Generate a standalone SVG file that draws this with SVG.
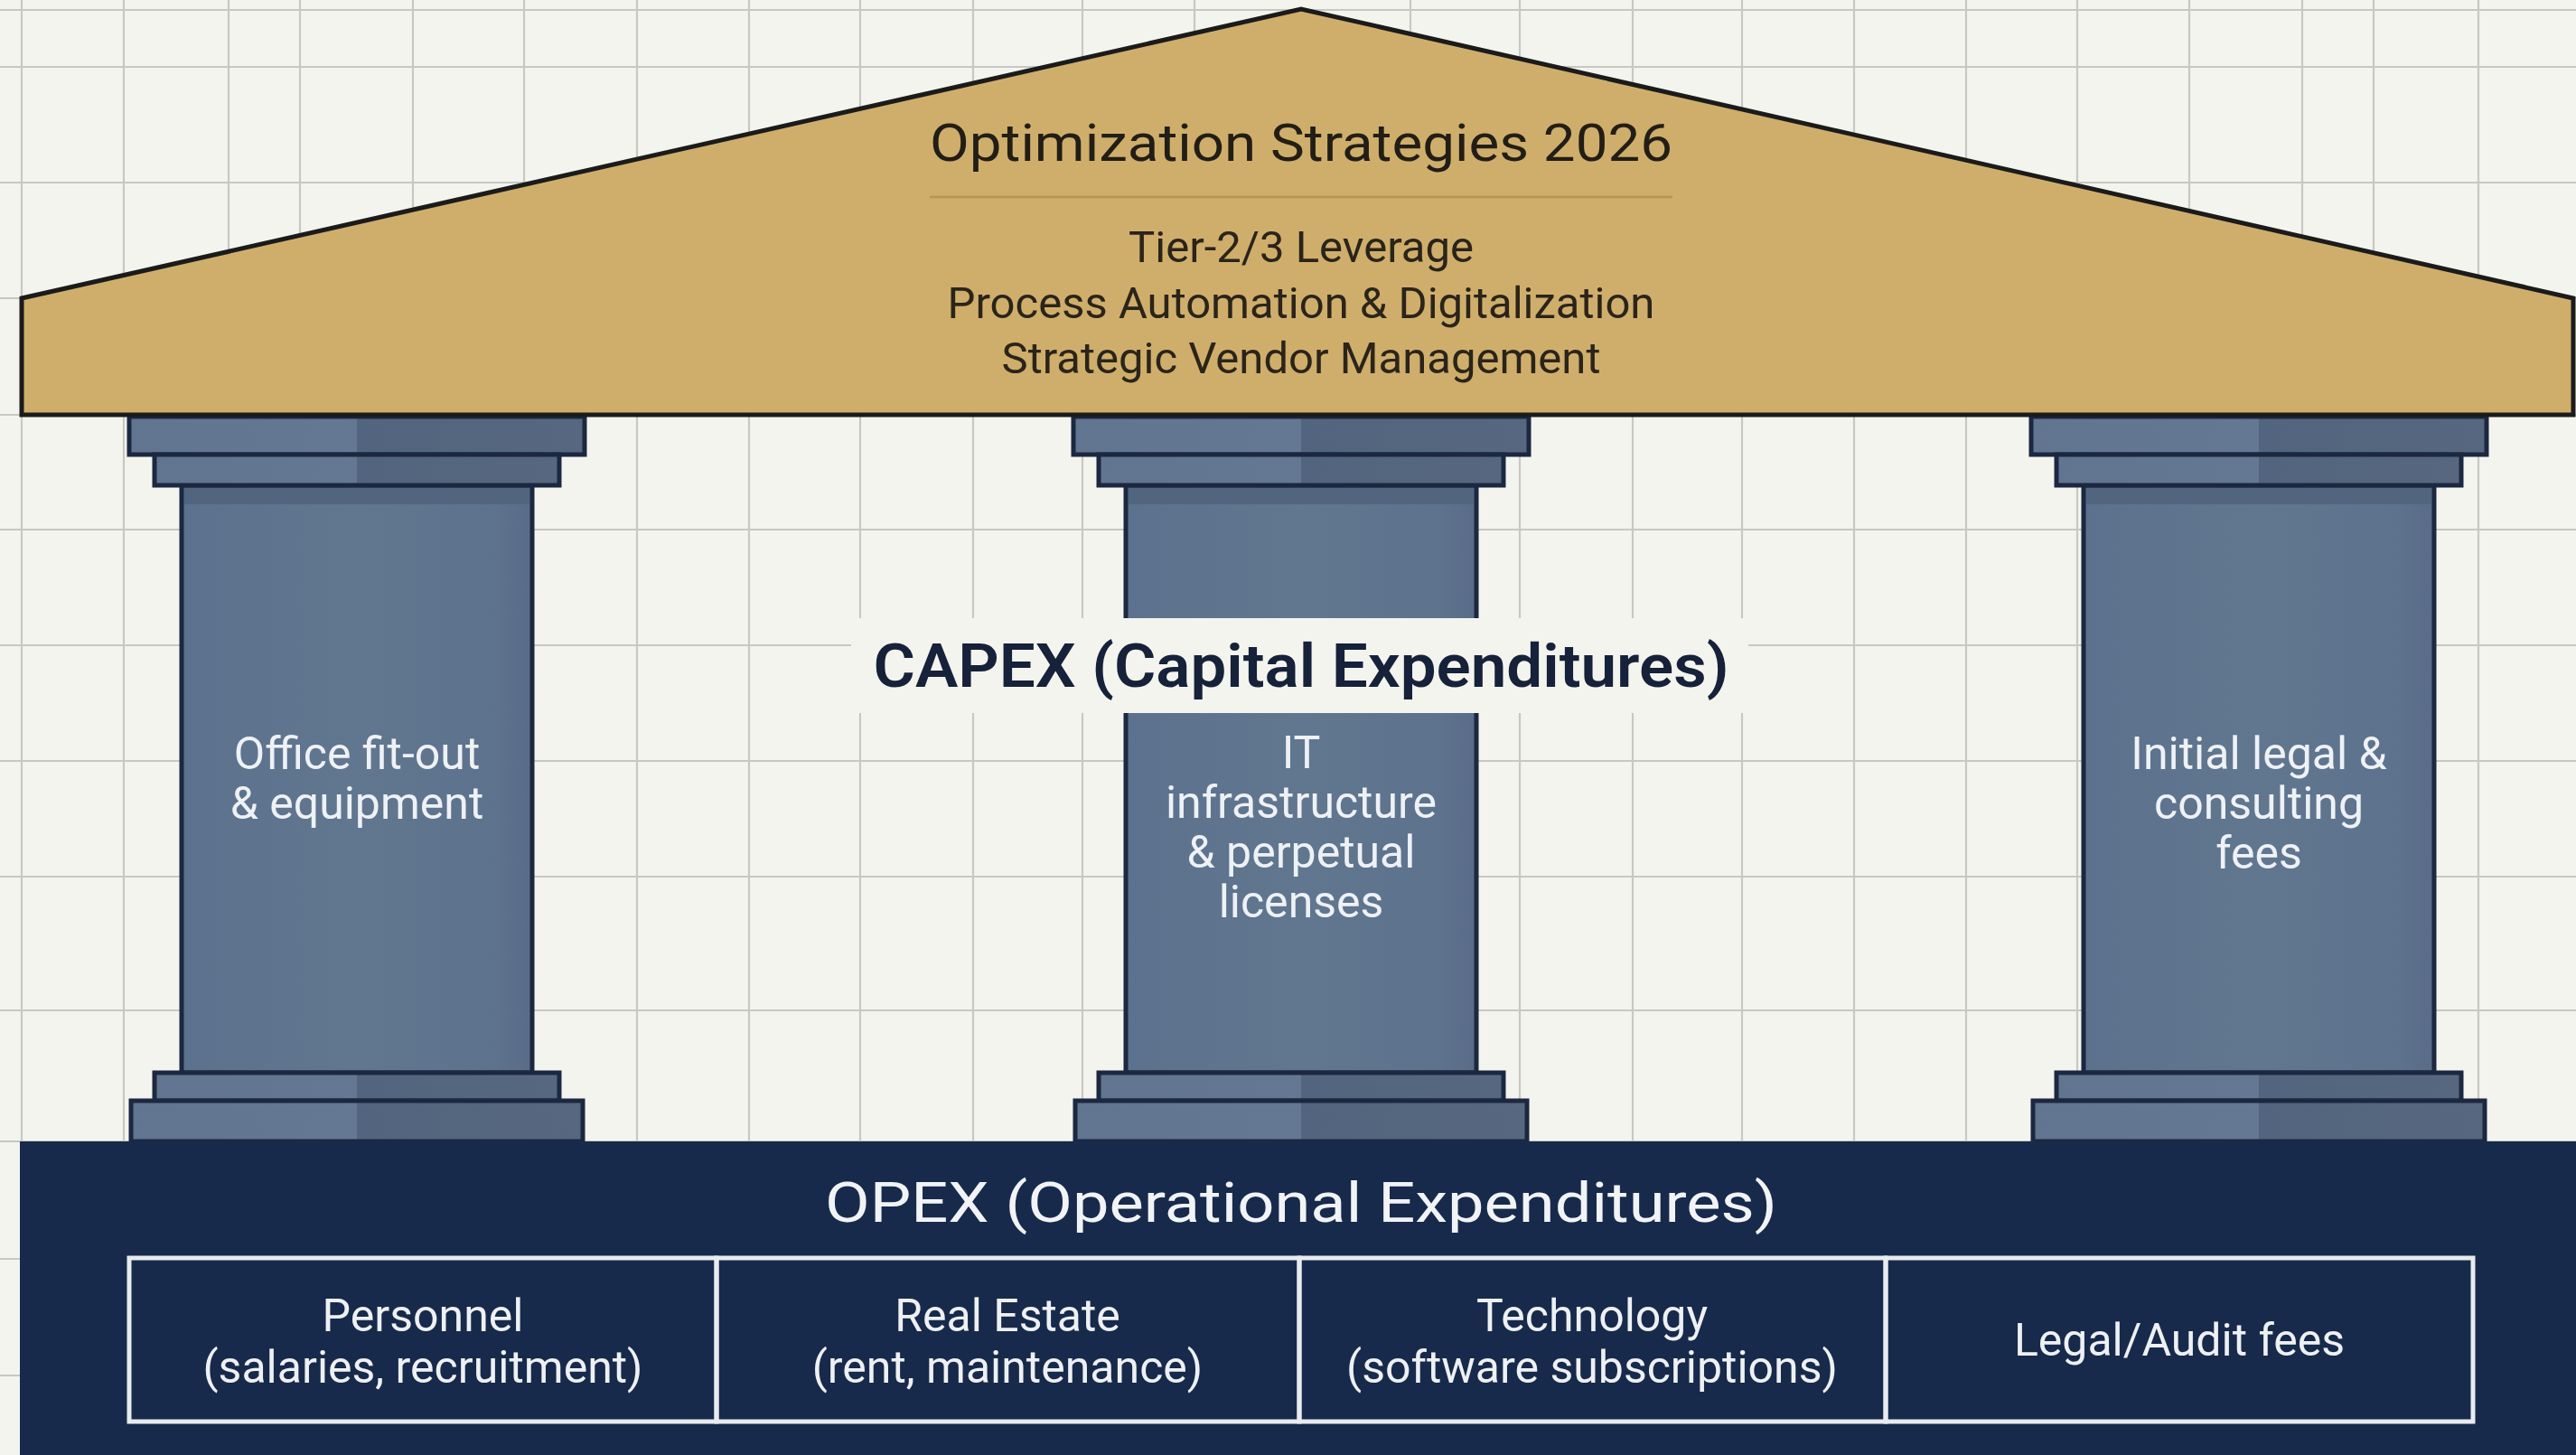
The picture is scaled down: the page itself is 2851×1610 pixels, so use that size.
<svg xmlns="http://www.w3.org/2000/svg" xmlns:xlink="http://www.w3.org/1999/xlink" width="2851" height="1610" viewBox="0 0 2851 1610">
  <style>
    .grid line { stroke: #c8c8c2; stroke-width: 2.2; }
    .slab { fill: url(#slabFill); stroke: #1b2840; stroke-width: 5; }
    .shaft { fill: url(#shaftFill); stroke: #1b2840; stroke-width: 5; }
    .ptext { font-family: Roboto, "Liberation Sans", sans-serif; font-size: 50px; fill: #eef1f5; text-anchor: middle; }
    .rtext { font-family: Roboto, "Liberation Sans", sans-serif; font-size: 49px; fill: #2a2419; text-anchor: middle; }
    .otext { font-family: Roboto, "Liberation Sans", sans-serif; font-size: 50px; fill: #eef0f3; text-anchor: middle; }
    .cell { fill: none; stroke: #e8ebef; stroke-width: 5; }
  </style>
  <defs>
    <linearGradient id="slabFill" x1="0" y1="0" x2="1" y2="0">
      <stop offset="0" stop-color="#617490"/>
      <stop offset="0.5" stop-color="#647793"/>
      <stop offset="0.5" stop-color="#53647e"/>
      <stop offset="1" stop-color="#56677f"/>
    </linearGradient>
    <linearGradient id="shaftFill" x1="0" y1="0" x2="1" y2="0">
      <stop offset="0" stop-color="#5c718d"/>
      <stop offset="0.5" stop-color="#61778f"/>
      <stop offset="0.9" stop-color="#5d728d"/>
      <stop offset="1" stop-color="#596b88"/>
    </linearGradient>
    <g id="pillarShape">
      <rect x="-194" y="537" width="388" height="650" class="shaft"/>
      <rect x="-191" y="540" width="382" height="18" fill="#52657f"/>
      <rect x="-252" y="461" width="504" height="42" class="slab"/>
      <rect x="-224" y="503" width="448" height="34" class="slab"/>
      <rect x="-224" y="1187" width="448" height="31" class="slab"/>
      <rect x="-250" y="1218" width="500" height="45" class="slab"/>
    </g>
  </defs>

  <rect x="0" y="0" width="2851" height="1610" fill="#f4f4ef"/>

  <g class="grid" id="grid">
    <line x1="24" y1="0" x2="24" y2="1610"/>
    <line x1="137" y1="0" x2="137" y2="1610"/>
    <line x1="253" y1="0" x2="253" y2="1610"/>
    <line x1="332" y1="0" x2="332" y2="1610"/>
    <line x1="457" y1="0" x2="457" y2="1610"/>
    <line x1="580" y1="0" x2="580" y2="1610"/>
    <line x1="705" y1="0" x2="705" y2="1610"/>
    <line x1="829" y1="0" x2="829" y2="1610"/>
    <line x1="952" y1="0" x2="952" y2="1610"/>
    <line x1="1077" y1="0" x2="1077" y2="1610"/>
    <line x1="1198" y1="0" x2="1198" y2="1610"/>
    <line x1="1322" y1="0" x2="1322" y2="1610"/>
    <line x1="1561" y1="0" x2="1561" y2="1610"/>
    <line x1="1682" y1="0" x2="1682" y2="1610"/>
    <line x1="1807" y1="0" x2="1807" y2="1610"/>
    <line x1="1928" y1="0" x2="1928" y2="1610"/>
    <line x1="2052" y1="0" x2="2052" y2="1610"/>
    <line x1="2176" y1="0" x2="2176" y2="1610"/>
    <line x1="2299" y1="0" x2="2299" y2="1610"/>
    <line x1="2423" y1="0" x2="2423" y2="1610"/>
    <line x1="2548" y1="0" x2="2548" y2="1610"/>
    <line x1="2627" y1="0" x2="2627" y2="1610"/>
    <line x1="2743" y1="0" x2="2743" y2="1610"/>
    <line x1="0" y1="11" x2="2851" y2="11"/>
    <line x1="0" y1="74" x2="2851" y2="74"/>
    <line x1="0" y1="202" x2="2851" y2="202"/>
    <line x1="0" y1="330" x2="2851" y2="330"/>
    <line x1="0" y1="459" x2="2851" y2="459"/>
    <line x1="0" y1="586" x2="2851" y2="586"/>
    <line x1="0" y1="714" x2="2851" y2="714"/>
    <line x1="0" y1="842" x2="2851" y2="842"/>
    <line x1="0" y1="970" x2="2851" y2="970"/>
    <line x1="0" y1="1118" x2="2851" y2="1118"/>
    <line x1="0" y1="1263" x2="2851" y2="1263"/>
    <line x1="0" y1="1393" x2="2851" y2="1393"/>
    <line x1="0" y1="1522" x2="2851" y2="1522"/>
  </g>

  <g id="pillar-1">
    <use href="#pillarShape" xlink:href="#pillarShape" transform="translate(395,0)"/>
    <text class="ptext" x="395" y="851">Office fit-out</text>
    <text class="ptext" x="395" y="906">&amp; equipment</text>
  </g>

  <g id="pillar-2">
    <use href="#pillarShape" xlink:href="#pillarShape" transform="translate(1440,0)"/>
    <text class="ptext" x="1440" y="850">IT</text>
    <text class="ptext" x="1440" y="905">infrastructure</text>
    <text class="ptext" x="1440" y="960">&amp; perpetual</text>
    <text class="ptext" x="1440" y="1015">licenses</text>
  </g>

  <g id="pillar-3">
    <use href="#pillarShape" xlink:href="#pillarShape" transform="translate(2500,0)"/>
    <text class="ptext" x="2500" y="851">Initial legal &amp;</text>
    <text class="ptext" x="2500" y="906">consulting</text>
    <text class="ptext" x="2500" y="961">fees</text>
  </g>

  <g id="capex-label">
    <rect x="942" y="684" width="993" height="105" fill="#f4f4ef"/>
    <text x="1440" y="760" text-anchor="middle" font-family="Roboto, 'Liberation Sans', sans-serif" font-size="66" font-weight="600" fill="#16213a" textLength="947" lengthAdjust="spacingAndGlyphs">CAPEX (Capital Expenditures)</text>
  </g>

  <g id="roof">
    <path d="M24,330 L1440,10 L2848,330 L2848,459 L24,459 Z" fill="#cfae6c" stroke="#1b1b1b" stroke-width="5" stroke-linejoin="miter"/>
    <text x="1440" y="178" text-anchor="middle" font-family="Roboto, 'Liberation Sans', sans-serif" font-size="58" font-weight="400" fill="#221e16" textLength="822" lengthAdjust="spacingAndGlyphs">Optimization Strategies 2026</text>
    <line x1="1029" y1="218" x2="1851" y2="218" stroke="#b59552" stroke-width="2.5"/>
    <text class="rtext" x="1440" y="290">Tier-2/3 Leverage</text>
    <text class="rtext" x="1440" y="352">Process Automation &amp; Digitalization</text>
    <text class="rtext" x="1440" y="413">Strategic Vendor Management</text>
  </g>

  <g id="opex">
    <rect x="22" y="1263" width="2829" height="347" fill="#172a4b"/>
    <text x="1440" y="1352" text-anchor="middle" font-family="Roboto, 'Liberation Sans', sans-serif" font-size="62" font-weight="400" fill="#f1f3f6" textLength="1054" lengthAdjust="spacingAndGlyphs">OPEX (Operational Expenditures)</text>
  </g>

  <g id="opex-personnel">
    <rect class="cell" x="143" y="1392" width="650" height="181"/>
    <text class="otext" x="468" y="1473">Personnel</text>
    <text class="otext" x="468" y="1530">(salaries, recruitment)</text>
  </g>
  <g id="opex-real-estate">
    <rect class="cell" x="793" y="1392" width="645" height="181"/>
    <text class="otext" x="1115" y="1473">Real Estate</text>
    <text class="otext" x="1115" y="1530">(rent, maintenance)</text>
  </g>
  <g id="opex-technology">
    <rect class="cell" x="1438" y="1392" width="649" height="181"/>
    <text class="otext" x="1762" y="1473">Technology</text>
    <text class="otext" x="1762" y="1530">(software subscriptions)</text>
  </g>
  <g id="opex-legal">
    <rect class="cell" x="2087" y="1392" width="650" height="181"/>
    <text class="otext" x="2412" y="1500">Legal/Audit fees</text>
  </g>

  <g id="connectors"/>
</svg>
